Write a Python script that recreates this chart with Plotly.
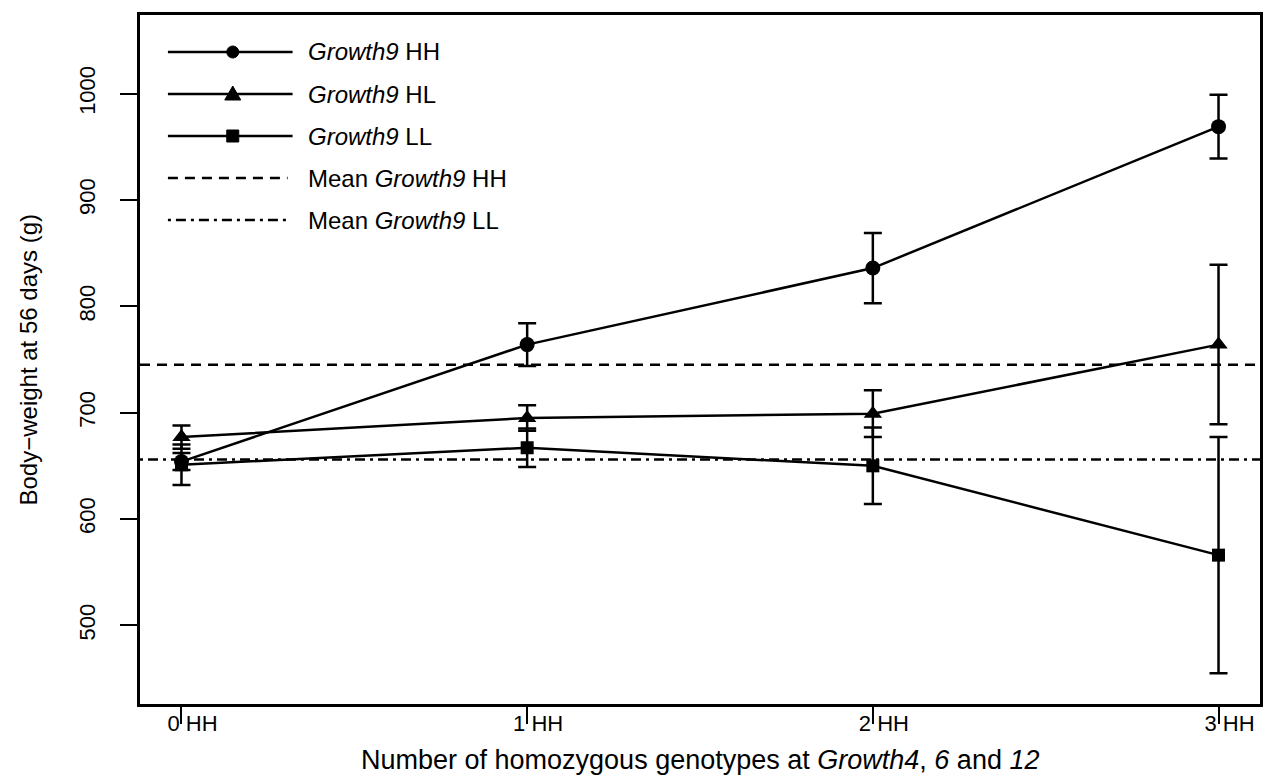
import plotly.graph_objects as go

# ---------------- data ----------------
categories = ["0 HH", "1 HH", "2 HH", "3 HH"]
x_vals = [0, 1, 2, 3]
hh_mean = [654, 764, 836, 969]
hh_se = [8, 20, 33, 30]
hl_mean = [677, 695, 699, 764]
hl_se = [11, 12, 22, 75]
ll_mean = [651, 667, 650, 566]
ll_se = [19, 18, 36, 111]
mean_hh_line = 745
mean_ll_line = 656
y_ticks = [500, 600, 700, 800, 900, 1000]
series_names = ["<i>Growth9</i> HH", "<i>Growth9</i> HL", "<i>Growth9</i> LL"]
mean_names = ["Mean <i>Growth9</i> HH", "Mean <i>Growth9</i> LL"]

# ---------------- layout geometry ----------------
W, H = 1269, 782
ML, MR, MT, MB = 140, 6, 15, 78
FONT = "Liberation Sans, Arial, Helvetica, sans-serif"
DASH_HH = "10px,7px"
DASH_LL = "3px,5px,10px,5px"
LW = 2.5


def pp(px, py):
    """pixel -> paper coordinates"""
    return (px - ML) / (W - ML - MR), (H - MB - py) / (H - MT - MB)


fig = go.Figure()

symbols = ["circle", "triangle-up", "square"]
sizes = [15, 16, 13]
for name, m, se, sym, sz in zip(series_names, [hh_mean, hl_mean, ll_mean],
                                [hh_se, hl_se, ll_se], symbols, sizes):
    fig.add_trace(go.Scatter(
        x=x_vals, y=m, mode="lines+markers", name=name,
        line=dict(color="black", width=LW),
        marker=dict(symbol=sym, size=sz, color="black"),
        error_y=dict(type="data", array=se, visible=True, color="black",
                     thickness=LW, width=9),
        showlegend=False, hoverinfo="skip",
    ))

# mean reference lines (abline style across the whole panel)
for val, dash in [(mean_hh_line, DASH_HH), (mean_ll_line, DASH_LL)]:
    fig.add_shape(type="line", xref="paper", x0=0, x1=1, yref="y", y0=val, y1=val,
                  line=dict(color="black", width=LW, dash=dash), layer="above")

# ---------------- manual legend ----------------
row_y = [52 + 42 * i for i in range(5)]
line_x0, line_x1, mark_x = 168, 293, 233
text_x = 306
LEG_FS = 24
annotations = []
for i, (lbl, sym) in enumerate(zip(series_names, symbols)):
    x0, y0 = pp(line_x0, row_y[i])
    x1, _ = pp(line_x1, row_y[i])
    fig.add_shape(type="line", xref="paper", yref="paper", x0=x0, x1=x1, y0=y0, y1=y0,
                  line=dict(color="black", width=LW))
    mx, my = pp(mark_x, row_y[i])
    if sym == "circle":
        fig.add_shape(type="circle", xref="paper", yref="paper", xsizemode="pixel",
                      ysizemode="pixel", xanchor=mx, yanchor=my, x0=-6, x1=6, y0=-6, y1=6,
                      fillcolor="black", line=dict(color="black", width=1))
    elif sym == "triangle-up":
        fig.add_shape(type="path", xref="paper", yref="paper", xsizemode="pixel",
                      ysizemode="pixel", xanchor=mx, yanchor=my,
                      path="M -8 -6 L 8 -6 L 0 8 Z",
                      fillcolor="black", line=dict(color="black", width=1))
    else:
        fig.add_shape(type="rect", xref="paper", yref="paper", xsizemode="pixel",
                      ysizemode="pixel", xanchor=mx, yanchor=my, x0=-6, x1=6, y0=-6, y1=6,
                      fillcolor="black", line=dict(color="black", width=1))
    tx, ty = pp(text_x, row_y[i])
    annotations.append(dict(text=lbl, xref="paper", yref="paper", x=tx, y=ty,
                            xanchor="left", yanchor="middle", showarrow=False,
                            font=dict(size=LEG_FS, color="black", family=FONT)))

for j, (lbl, dash) in enumerate(zip(mean_names, [DASH_HH, DASH_LL])):
    i = 3 + j
    x0, y0 = pp(line_x0, row_y[i])
    x1, _ = pp(288, row_y[i])
    fig.add_shape(type="line", xref="paper", yref="paper", x0=x0, x1=x1, y0=y0, y1=y0,
                  line=dict(color="black", width=LW, dash=dash))
    tx, ty = pp(text_x, row_y[i])
    annotations.append(dict(text=lbl, xref="paper", yref="paper", x=tx, y=ty,
                            xanchor="left", yanchor="middle", showarrow=False,
                            font=dict(size=LEG_FS, color="black", family=FONT)))

# axis titles
annotations.append(dict(text="Number of homozygous genotypes at <i>Growth4</i>, <i>6</i> and <i>12</i>",
                        xref="paper", yref="paper", x=0.5, y=0, yanchor="middle",
                        yshift=-56, showarrow=False,
                        font=dict(size=27, color="black", family=FONT)))
annotations.append(dict(text="Body\u2212weight at 56 days (g)",
                        xref="paper", yref="paper", x=0, y=0.5, xanchor="center",
                        xshift=-(ML - 28), textangle=-90, showarrow=False,
                        font=dict(size=24, color="black", family=FONT)))

fig.update_layout(
    width=W, height=H,
    margin=dict(l=ML, r=MR, t=MT, b=MB, pad=0),
    paper_bgcolor="white", plot_bgcolor="white",
    font=dict(family=FONT, color="black"),
    showlegend=False,
    hovermode=False,
    annotations=annotations,
    xaxis=dict(range=[-0.12, 3.12], tickmode="array", tickvals=x_vals, ticktext=categories,
               ticks="outside", ticklen=17, tickwidth=2, tickcolor="black",
               showline=True, linewidth=3, linecolor="black", mirror=True,
               showgrid=False, zeroline=False, ticklabelshift=11, ticklabelstandoff=-19,
               tickfont=dict(size=22, color="black", family=FONT)),
    yaxis=dict(range=[426, 1074], tickmode="array", tickvals=y_ticks,
               ticks="outside", ticklen=17, tickwidth=2, tickcolor="black",
               showline=True, linewidth=3, linecolor="black", mirror=True,
               showgrid=False, zeroline=False, tickangle=-90, ticklabelstandoff=16,
               tickfont=dict(size=22, color="black", family=FONT)),
)

fig.write_html("out.html", config={"displayModeBar": False},
               post_script="document.body.style.margin='0';document.body.style.overflow='hidden';")
